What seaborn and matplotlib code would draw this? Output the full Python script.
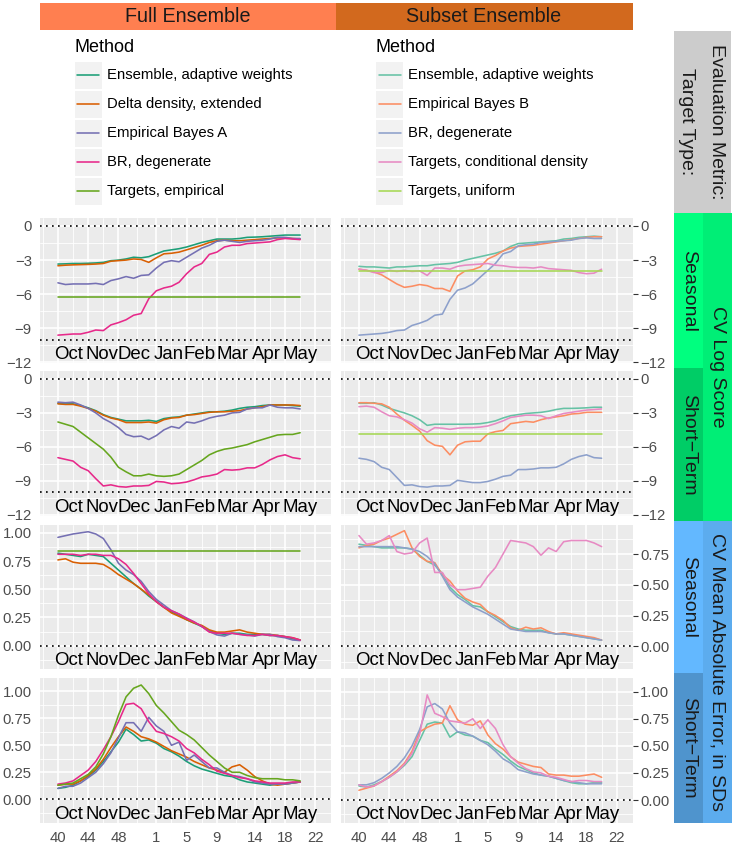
import matplotlib
matplotlib.use("Agg")
import matplotlib.pyplot as plt
import matplotlib.transforms as mtrans
from matplotlib.patches import Rectangle
from matplotlib.lines import Line2D
import numpy as np
import pandas as pd
import seaborn as sns

# ---------------- data ----------------
weeks = list(range(33))  # season week index: 0 = week 40 ... 32 = week 20
week_tick_pos = [0, 4, 8, 13, 17, 21, 26, 30, 34]
week_tick_labels = ["40", "44", "48", "1", "5", "9", "14", "18", "22"]
month_labels = ["Oct", "Nov", "Dec", "Jan", "Feb", "Mar", "Apr", "May"]
month_pos = [1.4, 5.8, 10.1, 14.6, 18.7, 23.0, 27.6, 32.0]

full_methods = ["Ensemble, adaptive weights", "Delta density, extended",
                "Empirical Bayes A", "BR, degenerate", "Targets, empirical"]
full_colors = ["#1B9E77", "#D95F02", "#7570B3", "#E7298A", "#66A61E"]
subset_methods = ["Ensemble, adaptive weights", "Empirical Bayes B",
                  "BR, degenerate", "Targets, conditional density", "Targets, uniform"]
subset_colors = ["#66C2A5", "#FC8D62", "#8DA0CB", "#E78AC3", "#A6D854"]

row_metrics = ["CV Log Score", "CV Log Score",
               "CV Mean Absolute Error, in SDs", "CV Mean Absolute Error, in SDs"]
row_targets = ["Seasonal", "Short\u2212Term", "Seasonal", "Short\u2212Term"]

# Full ensemble, seasonal, log score
fl_sl_ens = [-3.35,-3.33,-3.3,-3.3,-3.28,-3.25,-3.2,-3.05,-3.0,-2.9,-2.75,-2.8,-2.7,-2.45,-2.2,-2.1,-2.0,-1.85,-1.65,-1.45,-1.3,-1.15,-1.15,-1.15,-1.1,-1.0,-0.98,-0.95,-0.9,-0.85,-0.8,-0.8,-0.8]
fl_sl_delta = [-3.5,-3.45,-3.42,-3.4,-3.38,-3.35,-3.3,-3.1,-3.05,-3.0,-2.9,-2.95,-3.2,-2.8,-2.45,-2.4,-2.3,-2.1,-1.9,-1.7,-1.45,-1.3,-1.25,-1.3,-1.3,-1.25,-1.2,-1.15,-1.1,-1.05,-1.05,-1.1,-1.15]
fl_sl_eba = [-5.0,-5.15,-5.1,-5.1,-5.1,-5.05,-5.15,-4.8,-4.65,-4.45,-4.6,-4.35,-4.3,-3.7,-3.2,-3.05,-3.15,-2.75,-2.35,-1.95,-1.7,-1.35,-1.25,-1.35,-1.45,-1.35,-1.3,-1.25,-1.15,-1.0,-1.0,-1.1,-1.1]
fl_sl_br = [-9.6,-9.55,-9.5,-9.5,-9.35,-9.15,-9.2,-8.7,-8.5,-8.25,-7.85,-7.7,-6.4,-5.7,-5.45,-5.3,-4.95,-4.2,-3.6,-3.3,-2.5,-2.3,-1.85,-1.7,-1.7,-1.55,-1.5,-1.45,-1.4,-1.2,-1.1,-1.15,-1.2]
fl_sl_targ = [-6.25,-6.25,-6.25,-6.25,-6.25,-6.25,-6.25,-6.25,-6.25,-6.25,-6.25,-6.25,-6.25,-6.25,-6.25,-6.25,-6.25,-6.25,-6.25,-6.25,-6.25,-6.25,-6.25,-6.25,-6.25,-6.25,-6.25,-6.25,-6.25,-6.25,-6.25,-6.25,-6.25]

# Full ensemble, short-term, log score
fl_st_ens = [-2.15,-2.2,-2.2,-2.35,-2.55,-2.8,-3.15,-3.4,-3.55,-3.7,-3.7,-3.7,-3.65,-3.75,-3.5,-3.4,-3.35,-3.2,-3.1,-3.0,-2.9,-2.9,-2.85,-2.75,-2.6,-2.5,-2.45,-2.35,-2.3,-2.3,-2.3,-2.35,-2.4]
fl_st_delta = [-2.2,-2.25,-2.25,-2.4,-2.6,-2.85,-3.2,-3.45,-3.6,-3.85,-3.85,-3.85,-3.8,-3.9,-3.6,-3.45,-3.4,-3.2,-3.15,-3.05,-2.95,-2.9,-2.9,-2.85,-2.8,-2.65,-2.55,-2.45,-2.3,-2.3,-2.3,-2.3,-2.35]
fl_st_eba = [-2.05,-2.1,-2.05,-2.3,-2.6,-3.0,-3.5,-3.85,-4.3,-4.9,-5.1,-5.05,-5.35,-5.0,-4.5,-4.2,-4.35,-3.8,-3.9,-3.7,-3.45,-3.3,-3.2,-3.0,-2.95,-2.65,-2.55,-2.55,-2.3,-2.5,-2.55,-2.55,-2.65]
fl_st_br = [-6.95,-7.1,-7.25,-7.8,-8.1,-8.8,-9.45,-9.35,-9.5,-9.55,-9.45,-9.45,-9.4,-9.05,-9.1,-9.25,-9.2,-9.1,-8.9,-8.65,-8.55,-8.4,-8.0,-8.05,-8.0,-7.85,-7.85,-7.55,-7.15,-6.85,-6.7,-6.95,-7.05]
fl_st_targ = [-3.8,-4.0,-4.2,-4.7,-5.2,-5.7,-6.2,-6.9,-7.8,-8.2,-8.55,-8.55,-8.4,-8.55,-8.6,-8.55,-8.4,-8.0,-7.6,-7.2,-6.7,-6.4,-6.2,-6.1,-5.95,-5.8,-5.55,-5.35,-5.15,-4.95,-4.9,-4.9,-4.75]

# Full ensemble, seasonal, MAE
fl_sm_ens = [0.82,0.81,0.8,0.79,0.81,0.8,0.79,0.73,0.67,0.61,0.55,0.5,0.44,0.39,0.34,0.3,0.27,0.23,0.2,0.17,0.13,0.11,0.1,0.11,0.11,0.1,0.1,0.1,0.09,0.09,0.08,0.06,0.05]
fl_sm_delta = [0.76,0.77,0.74,0.73,0.73,0.73,0.72,0.68,0.63,0.59,0.55,0.5,0.45,0.39,0.34,0.29,0.26,0.23,0.2,0.18,0.14,0.12,0.12,0.13,0.14,0.12,0.11,0.1,0.1,0.09,0.08,0.07,0.05]
fl_sm_eba = [0.96,0.975,0.99,1.0,1.01,0.99,0.95,0.85,0.73,0.67,0.63,0.57,0.48,0.41,0.36,0.31,0.28,0.245,0.21,0.17,0.125,0.095,0.085,0.11,0.1,0.095,0.085,0.1,0.1,0.08,0.07,0.05,0.045]
fl_sm_br = [0.81,0.81,0.81,0.8,0.81,0.81,0.8,0.8,0.77,0.72,0.64,0.55,0.46,0.39,0.34,0.31,0.28,0.24,0.21,0.17,0.12,0.11,0.11,0.11,0.1,0.09,0.09,0.1,0.09,0.09,0.08,0.07,0.05]
fl_sm_targ = [0.84,0.84,0.84,0.84,0.84,0.84,0.84,0.84,0.84,0.84,0.84,0.84,0.84,0.84,0.84,0.84,0.84,0.84,0.84,0.84,0.84,0.84,0.84,0.84,0.84,0.84,0.84,0.84,0.84,0.84,0.84,0.84,0.84]

# Full ensemble, short-term, MAE
fl_stm_ens = [0.1,0.11,0.13,0.17,0.21,0.27,0.35,0.44,0.53,0.65,0.6,0.54,0.55,0.52,0.47,0.44,0.4,0.35,0.31,0.28,0.26,0.24,0.22,0.21,0.18,0.16,0.15,0.14,0.13,0.14,0.14,0.15,0.16]
fl_stm_delta = [0.13,0.14,0.14,0.17,0.22,0.28,0.37,0.48,0.58,0.67,0.63,0.58,0.56,0.53,0.49,0.45,0.42,0.39,0.35,0.32,0.29,0.27,0.25,0.3,0.32,0.27,0.21,0.17,0.14,0.13,0.14,0.15,0.16]
fl_stm_eba = [0.1,0.12,0.12,0.15,0.2,0.25,0.33,0.43,0.57,0.71,0.71,0.63,0.76,0.68,0.63,0.5,0.53,0.36,0.41,0.35,0.29,0.29,0.25,0.22,0.21,0.19,0.16,0.15,0.14,0.14,0.14,0.15,0.16]
fl_stm_br = [0.14,0.15,0.17,0.22,0.27,0.35,0.46,0.58,0.72,0.88,0.89,0.84,0.72,0.63,0.61,0.58,0.54,0.47,0.43,0.37,0.32,0.26,0.24,0.22,0.2,0.19,0.17,0.16,0.15,0.15,0.15,0.16,0.16]
fl_stm_targ = [0.13,0.14,0.15,0.19,0.23,0.3,0.42,0.58,0.78,0.95,1.03,1.06,0.98,0.87,0.8,0.72,0.64,0.6,0.55,0.48,0.41,0.35,0.29,0.25,0.25,0.22,0.2,0.19,0.19,0.19,0.18,0.18,0.17]

# Subset ensemble, seasonal, log score
sr_sl_ens = [-3.55,-3.6,-3.6,-3.65,-3.7,-3.6,-3.6,-3.55,-3.5,-3.5,-3.4,-3.35,-3.3,-3.2,-3.0,-2.85,-2.7,-2.55,-2.4,-2.2,-1.8,-1.55,-1.5,-1.45,-1.4,-1.35,-1.3,-1.15,-1.1,-1.0,-0.95,-0.9,-0.95]
sr_sl_ebb = [-3.8,-3.9,-4.05,-4.3,-4.7,-5.1,-5.4,-5.3,-5.15,-5.25,-5.5,-5.5,-5.75,-4.4,-3.95,-3.85,-3.6,-2.9,-2.6,-2.2,-1.95,-1.8,-1.75,-1.7,-1.6,-1.5,-1.4,-1.3,-1.2,-1.1,-1.0,-0.95,-0.95]
sr_sl_br = [-9.6,-9.55,-9.5,-9.45,-9.35,-9.2,-9.15,-8.75,-8.55,-8.3,-7.85,-7.75,-6.45,-5.65,-5.45,-5.1,-4.5,-3.9,-3.3,-2.45,-2.25,-1.75,-1.65,-1.6,-1.45,-1.4,-1.35,-1.3,-1.25,-1.1,-1.05,-1.1,-1.1]
sr_sl_cond = [-3.8,-3.9,-4.1,-4.1,-3.9,-4.0,-3.9,-4.0,-3.95,-4.35,-3.7,-3.7,-3.8,-3.55,-3.45,-3.4,-3.35,-3.3,-3.45,-3.5,-3.6,-3.65,-3.65,-3.7,-3.6,-3.75,-3.8,-3.85,-3.9,-4.1,-4.2,-4.15,-3.8]
sr_sl_unif = [-3.95,-3.95,-3.95,-3.95,-3.95,-3.95,-3.95,-3.95,-3.95,-3.95,-3.95,-3.95,-3.95,-3.95,-3.95,-3.95,-3.95,-3.95,-3.95,-3.95,-3.95,-3.95,-3.95,-3.95,-3.95,-3.95,-3.95,-3.95,-3.95,-3.95,-3.95,-3.95,-3.95]

# Subset ensemble, short-term, log score
sr_st_ens = [-2.15,-2.15,-2.1,-2.3,-2.6,-2.8,-3.0,-3.25,-3.6,-4.1,-4.0,-4.0,-4.0,-4.0,-4.0,-3.98,-3.95,-3.85,-3.7,-3.45,-3.25,-3.15,-3.05,-3.0,-2.95,-2.85,-2.7,-2.6,-2.6,-2.58,-2.55,-2.5,-2.5]
sr_st_ebb = [-2.1,-2.1,-2.15,-2.2,-2.5,-3.1,-3.65,-4.1,-4.6,-5.45,-5.85,-5.95,-6.7,-5.85,-5.55,-5.5,-5.5,-4.85,-4.65,-4.55,-3.95,-3.85,-3.75,-3.82,-3.6,-3.45,-3.35,-3.25,-3.1,-3.05,-2.95,-2.95,-2.95]
sr_st_br = [-7.0,-7.1,-7.3,-7.8,-8.0,-8.7,-9.4,-9.35,-9.5,-9.55,-9.45,-9.45,-9.4,-8.95,-9.05,-9.15,-9.15,-9.05,-8.85,-8.6,-8.5,-8.0,-8.0,-7.95,-7.85,-7.85,-7.8,-7.5,-7.1,-6.85,-6.7,-6.95,-7.0]
sr_st_cond = [-2.45,-2.4,-2.5,-2.9,-3.25,-3.35,-3.6,-3.9,-4.4,-4.7,-4.3,-4.35,-4.45,-4.35,-4.3,-4.3,-4.25,-4.15,-3.95,-3.7,-3.4,-3.3,-3.2,-3.2,-3.25,-3.5,-3.25,-3.05,-2.95,-2.85,-2.75,-2.7,-2.65]
sr_st_unif = [-4.85,-4.85,-4.85,-4.85,-4.85,-4.85,-4.85,-4.85,-4.85,-4.85,-4.85,-4.85,-4.85,-4.85,-4.85,-4.85,-4.85,-4.85,-4.85,-4.85,-4.85,-4.85,-4.85,-4.85,-4.85,-4.85,-4.85,-4.85,-4.85,-4.85,-4.85,-4.85,-4.85]

# Subset ensemble, seasonal, MAE (no uniform-target line)
sr_sm_ens = [0.83,0.82,0.81,0.8,0.8,0.8,0.8,0.79,0.74,0.69,0.66,0.59,0.48,0.42,0.38,0.33,0.32,0.28,0.24,0.2,0.16,0.14,0.13,0.13,0.13,0.11,0.1,0.1,0.09,0.08,0.07,0.06,0.05]
sr_sm_ebb = [0.8,0.82,0.83,0.86,0.88,0.91,0.94,0.8,0.73,0.69,0.68,0.58,0.53,0.45,0.39,0.36,0.34,0.28,0.25,0.21,0.15,0.13,0.155,0.14,0.15,0.12,0.1,0.11,0.1,0.09,0.08,0.07,0.05]
sr_sm_br = [0.81,0.81,0.81,0.81,0.81,0.81,0.8,0.79,0.77,0.73,0.67,0.57,0.46,0.4,0.36,0.32,0.29,0.26,0.22,0.18,0.14,0.13,0.12,0.12,0.12,0.11,0.1,0.1,0.09,0.08,0.07,0.06,0.05]
sr_sm_cond = [0.9,0.83,0.84,0.86,0.9,0.77,0.75,0.76,0.84,0.88,0.6,0.6,0.5,0.46,0.46,0.47,0.48,0.57,0.64,0.75,0.86,0.85,0.84,0.81,0.74,0.8,0.77,0.85,0.86,0.86,0.86,0.84,0.81]

# Subset ensemble, short-term, MAE (no uniform-target line)
sr_stm_ens = [0.13,0.12,0.14,0.17,0.21,0.26,0.32,0.4,0.55,0.7,0.72,0.71,0.58,0.63,0.6,0.59,0.55,0.53,0.47,0.42,0.36,0.31,0.28,0.25,0.23,0.22,0.2,0.18,0.16,0.15,0.15,0.16,0.16]
sr_stm_ebb = [0.09,0.11,0.13,0.17,0.22,0.27,0.34,0.45,0.63,0.67,0.7,0.71,0.87,0.74,0.7,0.69,0.73,0.6,0.52,0.47,0.4,0.35,0.33,0.31,0.3,0.24,0.23,0.23,0.22,0.22,0.23,0.24,0.21]
sr_stm_br = [0.14,0.14,0.16,0.2,0.25,0.31,0.39,0.5,0.65,0.86,0.89,0.84,0.71,0.63,0.62,0.59,0.55,0.51,0.45,0.38,0.34,0.28,0.26,0.24,0.23,0.22,0.2,0.18,0.17,0.16,0.15,0.15,0.15]
sr_stm_cond = [0.14,0.12,0.13,0.17,0.21,0.26,0.33,0.43,0.6,0.97,0.8,0.77,0.73,0.72,0.71,0.75,0.66,0.74,0.66,0.51,0.4,0.34,0.29,0.26,0.25,0.22,0.21,0.19,0.17,0.18,0.18,0.17,0.17]

full_panels = [
    [fl_sl_ens, fl_sl_delta, fl_sl_eba, fl_sl_br, fl_sl_targ],
    [fl_st_ens, fl_st_delta, fl_st_eba, fl_st_br, fl_st_targ],
    [fl_sm_ens, fl_sm_delta, fl_sm_eba, fl_sm_br, fl_sm_targ],
    [fl_stm_ens, fl_stm_delta, fl_stm_eba, fl_stm_br, fl_stm_targ],
]
subset_panels = [
    [sr_sl_ens, sr_sl_ebb, sr_sl_br, sr_sl_cond, sr_sl_unif],
    [sr_st_ens, sr_st_ebb, sr_st_br, sr_st_cond, sr_st_unif],
    [sr_sm_ens, sr_sm_ebb, sr_sm_br, sr_sm_cond, None],
    [sr_stm_ens, sr_stm_ebb, sr_stm_br, sr_stm_cond, None],
]

# ---------------- style ----------------
sns.set_theme(style="white")
plt.rcParams["font.family"] = ["Liberation Sans", "DejaVu Sans"]

W, H = 734, 844
fig = plt.figure(figsize=(W / 100, H / 100), dpi=100)


def fig_rect(x0, y0, x1, y1):
    return [x0 / W, 1 - y1 / H, (x1 - x0) / W, (y1 - y0) / H]


def add_box(x0, y0, x1, y1, color):
    fig.add_artist(Rectangle((x0 / W, 1 - y1 / H), (x1 - x0) / W, (y1 - y0) / H,
                             transform=fig.transFigure, facecolor=color,
                             edgecolor="none", zorder=0))


col_px = [(39.5, 331.0), (340.5, 632.5)]
row_px = [(218.0, 363.0), (371.0, 516.0), (524.5, 669.0), (678.0, 823.0)]
xlim = (-2.43, 36.07)
ylims = [
    [(-12.05, 0.7), (-12.1, 0.7), (-0.207, 1.074), (-0.221, 1.125)],
    [(-12.05, 0.7), (-12.1, 0.7), (-0.185, 0.99), (-0.212, 1.126)],
]
log_ticks = [0, -3, -6, -9, -12]
log_minor = [-1.5, -4.5, -7.5, -10.5]
mae_ticks = [0.0, 0.25, 0.5, 0.75, 1.0]
mae_minor = [-0.125, 0.125, 0.375, 0.625, 0.875]
x_minor = [-2, 2, 6, 10.5, 15, 19, 23.5, 28, 32]

for c, (methods, colors, panels) in enumerate([
        (full_methods, full_colors, full_panels),
        (subset_methods, subset_colors, subset_panels)]):
    for r in range(4):
        ax = fig.add_axes(fig_rect(col_px[c][0], row_px[r][0], col_px[c][1], row_px[r][1]))
        ax.set_facecolor("#EBEBEB")
        for s in ax.spines.values():
            s.set_visible(False)
        recs = []
        used_methods, used_colors = [], []
        for m, col, vals in zip(methods, colors, panels[r]):
            if vals is None:
                continue
            used_methods.append(m)
            used_colors.append(col)
            for w, v in zip(weeks, vals):
                recs.append({"week": w, "value": v, "method": m})
        df = pd.DataFrame(recs)
        sns.lineplot(data=df, x="week", y="value", hue="method",
                     hue_order=used_methods, palette=used_colors,
                     estimator=None, legend=False, linewidth=1.15, ax=ax, zorder=3)
        lo, hi = ylims[c][r]
        ax.set_xlim(*xlim)
        ax.set_ylim(lo, hi)
        ax.set_xlabel("")
        ax.set_ylabel("")
        ax.set_xticks(week_tick_pos)
        ax.set_xticks(x_minor, minor=True)
        if r < 2:
            ticks = [t for t in log_ticks if lo <= t <= hi]
            ax.set_yticks(ticks)
            ax.set_yticklabels([str(t).replace("-", "\u2212") for t in ticks])
            ax.set_yticks(log_minor, minor=True)
        else:
            ticks = [t for t in mae_ticks if lo <= t <= hi]
            ax.set_yticks(ticks)
            ax.set_yticklabels(["%.2f" % t for t in ticks])
            ax.set_yticks([t for t in mae_minor if lo <= t <= hi], minor=True)
        ax.grid(which="major", color="white", linewidth=1.2)
        ax.grid(which="minor", color="white", linewidth=0.6)
        ax.set_axisbelow(True)
        ax.tick_params(which="minor", length=0)
        ax.tick_params(axis="y", which="major", length=3.5, width=0.8, color="#333333",
                       labelsize=10.7, labelcolor="#4D4D4D", pad=2)
        if c == 1:
            ax.yaxis.tick_right()
            ax.tick_params(axis="y", which="minor", length=0)
        if r == 3:
            ax.set_xticklabels(week_tick_labels)
            ax.tick_params(axis="x", which="major", length=3.5, width=0.8, color="#333333",
                           labelsize=10.7, labelcolor="#4D4D4D", pad=2)
        else:
            ax.tick_params(axis="x", which="major", bottom=False, labelbottom=False)
        # reference lines
        dot = (0, (1, 2.6))
        ax.axhline(0, color="black", linestyle=dot, linewidth=1.2, zorder=2)
        if r < 2:
            ax.axhline(-10, color="black", linestyle=dot, linewidth=1.2, zorder=2)
        # month labels
        trans = mtrans.blended_transform_factory(ax.transData, ax.transAxes)
        for lab, pos in zip(month_labels, month_pos):
            ax.text(pos, 0.03, lab, transform=trans, ha="center", va="baseline",
                    fontsize=13.4, color="black", zorder=4)

# ---------------- top strips ----------------
add_box(39.5, 2.5, 335.5, 30, "#FF7F50")
add_box(335.5, 2.5, 632.5, 30, "#D2691E")
fig.text(187.5 / W, 1 - 16.5 / H, "Full Ensemble", ha="center", va="center",
         fontsize=14.2, color="#1A1A1A")
fig.text(484 / W, 1 - 16.5 / H, "Subset Ensemble", ha="center", va="center",
         fontsize=14.2, color="#1A1A1A")

# ---------------- right strips ----------------
add_box(674.3, 31, 730.5, 213, "#CCCCCC")
fig.text(716 / W, 1 - 122 / H, "Evaluation Metric:", rotation=-90, ha="center",
         va="center", fontsize=14, color="#1A1A1A")
fig.text(686 / W, 1 - 122 / H, "Target Type:", rotation=-90, ha="center",
         va="center", fontsize=14, color="#1A1A1A")

strip_rows = [(213, 368), (368, 521), (521, 673), (673, 823)]
inner_colors = ["#00FF7F", "#00CD66", "#63B8FF", "#4F94CD"]
for (y0, y1), col, lab in zip(strip_rows, inner_colors, row_targets):
    add_box(674.3, y0, 702.8, y1, col)
    fig.text(688.5 / W, 1 - (y0 + y1) / 2 / H, lab, rotation=-90, ha="center",
             va="center", fontsize=14, color="#1A1A1A")
outer = [((213, 521), "#00EE76", row_metrics[0]), ((521, 823), "#5CACEE", row_metrics[2])]
for (y0, y1), col, lab in outer:
    add_box(702.8, y0, 731.7, y1, col)
    fig.text(717.5 / W, 1 - (y0 + y1) / 2 / H, lab, rotation=-90, ha="center",
             va="center", fontsize=14, color="#1A1A1A")

# ---------------- legends ----------------
def draw_legend(x_title, x_key0, x_key1, x_line0, x_line1, x_label, methods, colors):
    fig.text(x_title / W, 1 - 47.5 / H, "Method", ha="left", va="center",
             fontsize=13, color="black")
    for i, (m, col) in enumerate(zip(methods, colors)):
        yc = 75.3 + 29 * i
        add_box(x_key0, yc - 13.3, x_key1, yc + 13.3, "#F2F2F2")
        fig.add_artist(Line2D([x_line0 / W, x_line1 / W], [1 - yc / H, 1 - yc / H],
                              transform=fig.transFigure, color=col, linewidth=1.15))
        fig.text(x_label / W, 1 - yc / H, m, ha="left", va="center",
                 fontsize=10.7, color="black")


draw_legend(74.0, 74.5, 101.5, 77.3, 99.3, 106.7, full_methods, full_colors)
draw_legend(375.3, 376.0, 403.0, 378.5, 400.5, 407.7, subset_methods, subset_colors)

fig.savefig("out.png", dpi=100)
